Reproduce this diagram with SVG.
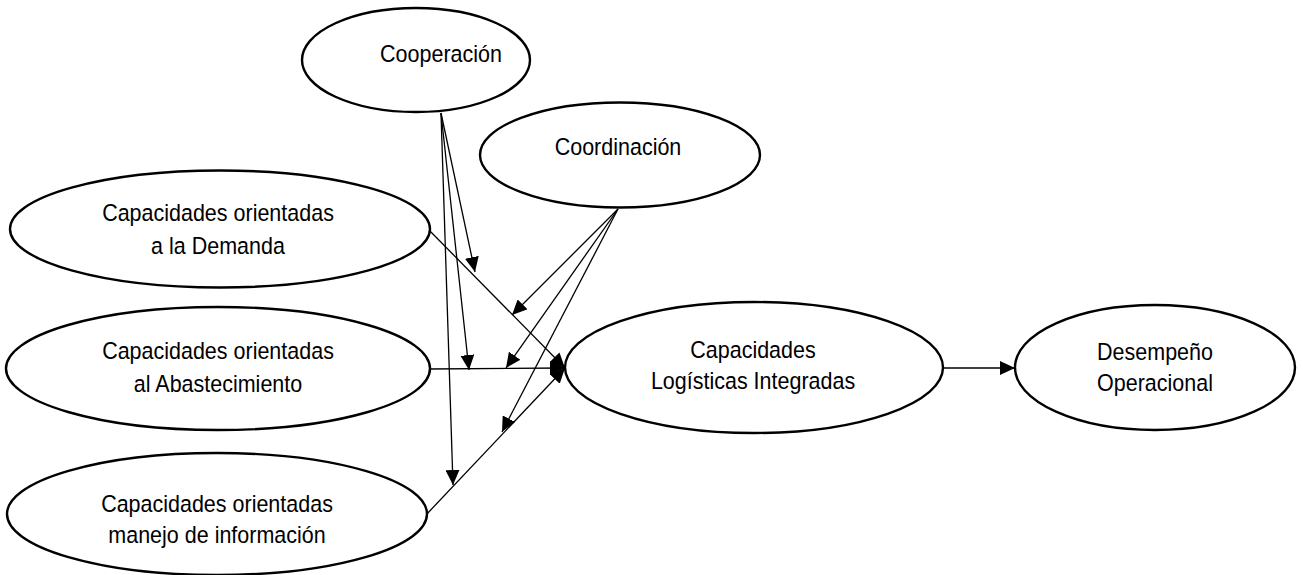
<svg xmlns="http://www.w3.org/2000/svg" width="1303" height="575" viewBox="0 0 1303 575">
  <style>
    .node ellipse { fill: #ffffff; stroke: #000000; stroke-width: 2.4; }
    .node text { font-family: "Liberation Sans", Arial, sans-serif; font-size: 21.5px; fill: #000000; text-anchor: middle; }
    #connectors line { stroke: #000000; stroke-width: 1.3; fill: none; marker-end: url(#arrow); }
  </style>
  <defs>
    <marker id="arrow" markerUnits="userSpaceOnUse" markerWidth="15" markerHeight="14" refX="15" refY="7" orient="auto">
      <path d="M0,0 L15,7 L0,14 Z" fill="#000000"/>
    </marker>
  </defs>
  <rect width="1303" height="575" fill="#ffffff"/>

  <!-- connectors -->
  <g id="connectors">
    <!-- inputs into integrated logistics capabilities -->
    <line x1="427" y1="228" x2="565" y2="368"/>
    <line x1="430" y1="369" x2="565" y2="368"/>
    <line x1="425" y1="516" x2="565" y2="368"/>
    <!-- integrated capabilities to operational performance -->
    <line x1="943" y1="368" x2="1015" y2="368"/>
    <!-- cooperation moderating links -->
    <line x1="441" y1="113" x2="475" y2="272"/>
    <line x1="441" y1="113" x2="469" y2="370"/>
    <line x1="441" y1="113" x2="453" y2="485"/>
    <!-- coordination moderating links -->
    <line x1="618" y1="209" x2="512" y2="315"/>
    <line x1="618" y1="209" x2="506" y2="368"/>
    <line x1="618" y1="209" x2="502" y2="432"/>
  </g>

  <g id="cooperacion" class="node">
    <ellipse cx="416" cy="60" rx="114" ry="52"/>
    <text transform="translate(441,62) scale(1,1.12)">Cooperación</text>
  </g>

  <g id="coordinacion" class="node">
    <ellipse cx="620" cy="155" rx="140" ry="52.5"/>
    <text transform="translate(618,155) scale(1,1.12)">Coordinación</text>
  </g>

  <g id="demanda" class="node">
    <ellipse cx="220" cy="229" rx="210" ry="58.5"/>
    <text transform="translate(218,221) scale(1,1.12)">Capacidades orientadas</text>
    <text transform="translate(218,254) scale(1,1.12)">a la Demanda</text>
  </g>

  <g id="abastecimiento" class="node">
    <ellipse cx="218" cy="368.5" rx="212" ry="61.5"/>
    <text transform="translate(218,359) scale(1,1.12)">Capacidades orientadas</text>
    <text transform="translate(218,392) scale(1,1.12)">al Abastecimiento</text>
  </g>

  <g id="informacion" class="node">
    <ellipse cx="217" cy="514" rx="210" ry="61"/>
    <text transform="translate(217,512) scale(1,1.12)">Capacidades orientadas</text>
    <text transform="translate(217,543) scale(1,1.12)">manejo de información</text>
  </g>

  <g id="integradas" class="node">
    <ellipse cx="754" cy="367.5" rx="189" ry="65.5"/>
    <text transform="translate(753,358) scale(1,1.12)">Capacidades</text>
    <text transform="translate(753,389) scale(1,1.12)">Logísticas Integradas</text>
  </g>

  <g id="desempeno" class="node">
    <ellipse cx="1155" cy="367.5" rx="140" ry="62.5"/>
    <text transform="translate(1155,360) scale(1,1.12)">Desempeño</text>
    <text transform="translate(1155,391) scale(1,1.12)">Operacional</text>
  </g>
</svg>
